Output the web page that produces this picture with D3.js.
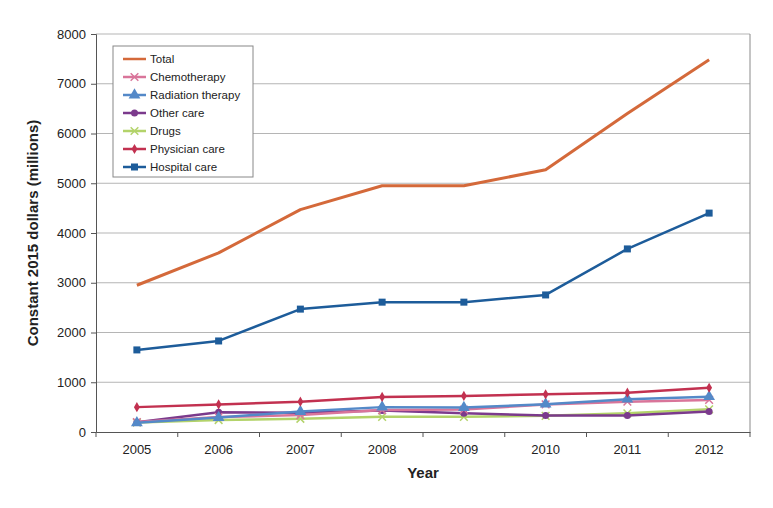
<!DOCTYPE html>
<html><head><meta charset="utf-8">
<script src="https://cdn.jsdelivr.net/npm/d3@7"></script>
<style>body{margin:0;background:#fff;font-family:"Liberation Sans",Arial,sans-serif;}</style>
</head><body><svg id="c" width="773" height="508"></svg>
<script>
const years = ["2005","2006","2007","2008","2009","2010","2011","2012"];
const yTicks = [0,1000,2000,3000,4000,5000,6000,7000,8000];
const seriesNames = ["Total","Chemotherapy","Radiation therapy","Other care","Drugs","Physician care","Hospital care"];
const total = [2950,3600,4470,4950,4950,5270,6400,7480];
const chemotherapy = [200,300,340,440,450,555,610,645];
const radiation = [185,290,410,500,490,560,660,710];
const otherCare = [195,395,385,430,375,330,330,410];
const drugs = [190,240,265,305,305,325,375,455];
const physician = [500,555,610,705,725,758,790,890];
const hospital = [1650,1830,2470,2610,2610,2755,3680,4400];
const colors = ["#d4693a","#d9759a","#5489c8","#7b3a8c","#b3d36a","#c23150","#1d5c9a"];
const markers = ["none","x","triangle","circle","star","diamond","square"];
const data = [total,chemotherapy,radiation,otherCare,drugs,physician,hospital];
const drawOrder = [4,3,1,2,5,6,0];

const svg = d3.select("#c");
const L=96,R=750,T=34,B=432;
const x = d3.scaleBand().domain(years).range([L,R]);
const y = d3.scaleLinear().domain([0,8000]).range([B,T]);

// gridlines
svg.append("g").selectAll("line").data(yTicks.filter(d=>d>0)).join("line")
  .attr("x1",L).attr("x2",R).attr("y1",d=>y(d)).attr("y2",d=>y(d))
  .attr("stroke","#b5b5b5").attr("stroke-width",1);
// right border
svg.append("line").attr("x1",R).attr("x2",R).attr("y1",T).attr("y2",B).attr("stroke","#8a8a8a");

const yAxis = svg.append("g").attr("transform",`translate(${L},0)`)
  .call(d3.axisLeft(y).tickValues(yTicks).tickSize(5).tickPadding(5).tickFormat(d3.format("d")));
yAxis.select(".domain").attr("stroke","#555");
yAxis.selectAll(".tick line").attr("stroke","#555");
yAxis.selectAll("text").attr("font-size","13px").attr("fill","#222").attr("font-family","Liberation Sans, Arial, sans-serif");

const xAxis = svg.append("g").attr("transform",`translate(0,${B})`)
  .call(d3.axisBottom(x).tickSize(0).tickPadding(13));
xAxis.select(".domain").attr("stroke","#555");
xAxis.selectAll("text").attr("font-size","13px").attr("fill","#222").attr("font-family","Liberation Sans, Arial, sans-serif");
// boundary ticks
const bounds = years.map(d=>x(d)).concat([R]);
svg.append("g").selectAll("line").data(bounds).join("line")
  .attr("x1",d=>d).attr("x2",d=>d).attr("y1",B).attr("y2",B+5).attr("stroke","#555");

svg.append("text").attr("x",423).attr("y",478).attr("text-anchor","middle")
  .attr("font-size","15px").attr("font-weight","bold").attr("fill","#222").text("Year");
svg.append("text").attr("transform","translate(38,233) rotate(-90)").attr("text-anchor","middle")
  .attr("font-size","15px").attr("font-weight","bold").attr("fill","#222").text("Constant 2015 dollars (millions)");

const cx = d=>x(d)+x.bandwidth()/2;
const line = d3.line().x((v,i)=>cx(years[i])).y(v=>y(v));

function drawMarker(g,type,color,px,py){
  if(type==="none") return;
  if(type==="square") g.append("rect").attr("x",px-3.5).attr("y",py-3.5).attr("width",7).attr("height",7).attr("fill",color);
  else if(type==="circle") g.append("circle").attr("cx",px).attr("cy",py).attr("r",3.5).attr("fill",color);
  else if(type==="triangle") g.append("path").attr("d",d3.symbol(d3.symbolTriangle,60)()).attr("transform",`translate(${px},${py})`).attr("fill",color);
  else if(type==="diamond") g.append("path").attr("d",d3.symbol(d3.symbolDiamond,30)()).attr("transform",`translate(${px},${py})`).attr("fill",color);
  else if(type==="x") g.append("path").attr("d",d3.symbol(d3.symbolX,40)()).attr("transform",`translate(${px},${py})`).attr("stroke",color).attr("stroke-width",1.5).attr("fill","none");
  else if(type==="star") g.append("path").attr("d",d3.symbol(d3.symbolX,40)()).attr("transform",`translate(${px},${py})`).attr("stroke",color).attr("stroke-width",1.5).attr("fill","none");
}

drawOrder.forEach(k=>{
  const g = svg.append("g");
  g.append("path").datum(data[k]).attr("d",line).attr("fill","none")
    .attr("stroke",colors[k]).attr("stroke-width",k===0?3:2.5).attr("stroke-linejoin","round");
  data[k].forEach((v,i)=>drawMarker(g,markers[k],colors[k],cx(years[i]),y(v)));
});

// legend
const lg = svg.append("g");
lg.append("rect").attr("x",113).attr("y",46).attr("width",140).attr("height",131)
  .attr("fill","#fff").attr("stroke","#888").attr("stroke-width",1);
seriesNames.forEach((n,i)=>{
  const yy = 59 + i*18;
  lg.append("line").attr("x1",123).attr("x2",146).attr("y1",yy).attr("y2",yy)
    .attr("stroke",colors[i]).attr("stroke-width",2.5);
  drawMarker(lg,markers[i],colors[i],134.5,yy);
  lg.append("text").attr("x",150).attr("y",yy+4).attr("font-size","11.5px").attr("fill","#222").text(n);
});
</script></body></html>
